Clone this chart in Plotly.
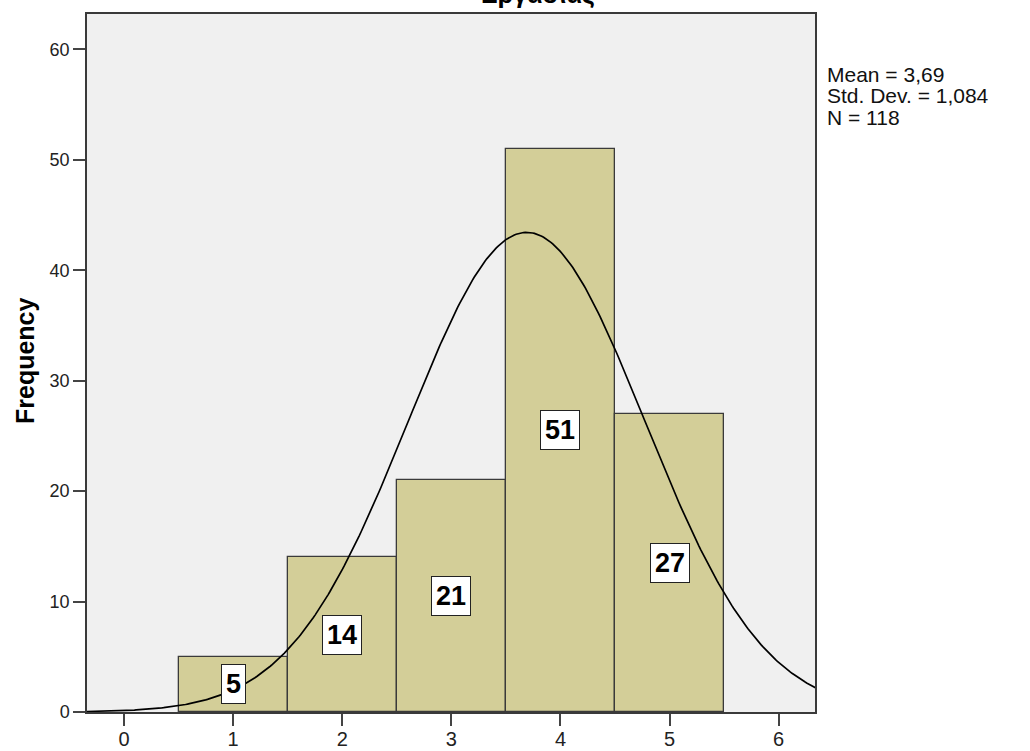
import numpy as np
import plotly.graph_objects as go

# Data
bin_centers = [1, 2, 3, 4, 5]
frequencies = [5, 14, 21, 51, 27]
mean_val = 3.69
std_val = 1.084
n_val = 118
title_text = "Εργασίας"
stats_lines = ["Mean = 3,69", "Std. Dev. = 1,084", "N = 118"]
x_ticks = [0, 1, 2, 3, 4, 5, 6]
y_ticks = [0, 10, 20, 30, 40, 50, 60]

W, H = 1030, 751
ml, mr, mt, mb = 87, 215, 14, 39
pw, ph = W - ml - mr, H - mt - mb
FONT = "Arial, Liberation Sans, sans-serif"


def px_x(p):
    return (p - ml) / pw


def px_y(p):
    return 1 - (p - mt) / ph


fig = go.Figure()
fig.add_trace(go.Bar(
    x=bin_centers, y=frequencies, width=1,
    marker=dict(color="#d3ce98", line=dict(color="#3a3a3a", width=1.3)),
    hoverinfo="x+y", showlegend=False,
))

# normal curve from the stated statistics (mean, std. dev., N, bin width 1)
xs = np.linspace(-0.34, 6.34, 400)
ys = n_val * 1.0 * np.exp(-0.5 * ((xs - mean_val) / std_val) ** 2) / (std_val * np.sqrt(2 * np.pi))
fig.add_trace(go.Scatter(x=xs, y=ys, mode="lines", line=dict(color="black", width=1.7),
                         showlegend=False, hoverinfo="skip"))

annotations = []
for xc, f in zip(bin_centers, frequencies):
    annotations.append(dict(
        x=xc, y=f / 2, xref="x", yref="y", text="<b>%d</b>" % f, showarrow=False,
        xanchor="center", yanchor="middle",
        font=dict(family=FONT, size=27, color="black"),
        bgcolor="white", bordercolor="#222", borderwidth=1, borderpad=4,
    ))

# title (partly outside the top of the picture, as in the original)
annotations.append(dict(
    x=px_x(538), y=px_y(11), xref="paper", yref="paper", xanchor="center", yanchor="bottom",
    text="<b>%s</b>" % title_text, showarrow=False,
    font=dict(family=FONT, size=25, color="black"),
))
for line, yc in zip(stats_lines, [74, 95.5, 117]):
    annotations.append(dict(
        x=px_x(826), y=px_y(yc), xref="paper", yref="paper",
        xanchor="left", yanchor="middle", align="left", borderpad=0,
        text=line, showarrow=False, font=dict(family=FONT, size=21, color="#111"),
    ))
annotations.append(dict(
    x=px_x(25), y=px_y(361), xref="paper", yref="paper",
    xanchor="center", yanchor="middle",
    text="<b>Frequency</b>", textangle=-90, showarrow=False,
    font=dict(family=FONT, size=25, color="black"),
))

fig.update_layout(
    width=W, height=H, autosize=False,
    margin=dict(l=ml, r=mr, t=mt, b=mb, pad=0),
    paper_bgcolor="white", plot_bgcolor="#f0f0f0",
    bargap=0, annotations=annotations,
    font=dict(family=FONT, size=18, color="#222"),
)
fig.update_xaxes(
    range=[-0.339, 6.333], tickvals=x_ticks, ticktext=[str(v) for v in x_ticks],
    showgrid=False, zeroline=False, ticks="outside", ticklen=12, tickwidth=1.6, tickcolor="#444",
    showline=True, linecolor="#3a3a3a", linewidth=1.5, mirror=True, automargin=False,
    ticklabelstandoff=-4,
    tickfont=dict(family=FONT, size=20, color="#222"),
)
fig.update_yaxes(
    range=[0, 63.2], tickvals=y_ticks, ticktext=[str(v) for v in y_ticks],
    showgrid=False, zeroline=False, ticks="outside", ticklen=12, tickwidth=1.6, tickcolor="#444",
    showline=True, linecolor="#3a3a3a", linewidth=1.5, mirror=True, automargin=False,
    ticklabelstandoff=0,
    tickfont=dict(family=FONT, size=18, color="#222"),
)

fig.write_html("out.html", config={"displayModeBar": False},
               post_script="document.body.style.margin='0';document.body.style.overflow='hidden';")
